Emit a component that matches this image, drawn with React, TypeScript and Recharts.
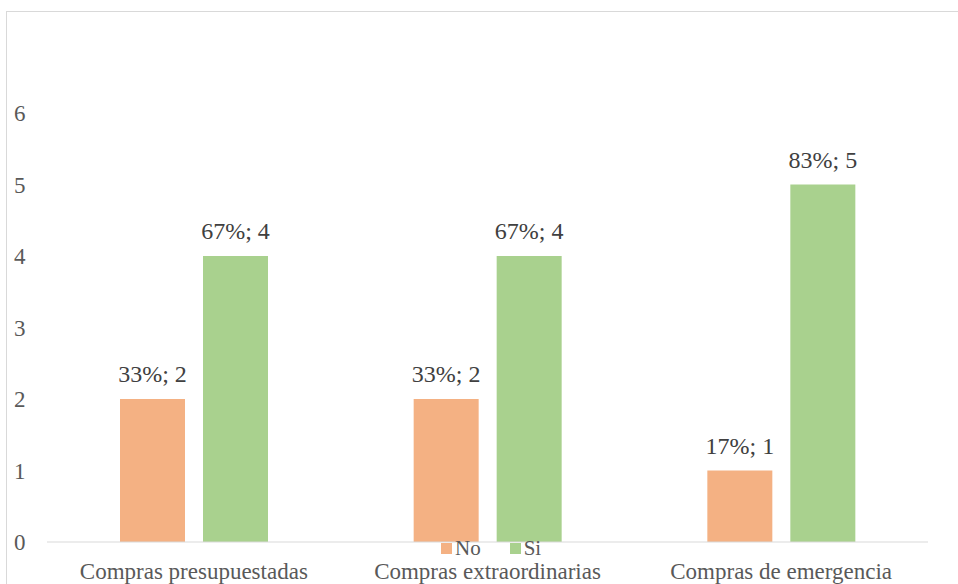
import { BarChart, Bar, XAxis, YAxis, LabelList } from "recharts";

const categories = [
  "Compras presupuestadas",
  "Compras extraordinarias",
  "Compras de emergencia",
];
const noValues = [2, 2, 1];
const siValues = [4, 4, 5];
const yTicks = [0, 1, 2, 3, 4, 5, 6];

const FONT = '"Liberation Serif", "Times New Roman", "DejaVu Serif", serif';
const ORANGE = "#F4B183";
const GREEN = "#A9D18E";

const data = categories.map((name, i) => {
  const total = noValues[i] + siValues[i];
  return {
    name,
    No: noValues[i],
    Si: siValues[i],
    noLabel: `${Math.round((noValues[i] / total) * 100)}%; ${noValues[i]}`,
    siLabel: `${Math.round((siValues[i] / total) * 100)}%; ${siValues[i]}`,
  };
});

const axisText = { fontFamily: FONT, fontSize: 23 };
const labelText = { fontFamily: FONT, fontSize: 24 };

const YTick = ({ y, payload }: any) => (
  <text x={14} y={y} dy={8} fill="#595959" style={axisText}>
    {payload.value}
  </text>
);

const XTick = ({ x, y, payload }: any) => (
  <text x={x} y={y} dy={29} textAnchor="middle" fill="#595959" style={axisText}>
    {payload.value}
  </text>
);

const BarLabel = ({ x, y, width, value }: any) => (
  <text
    x={x + width / 2}
    y={y - 17}
    textAnchor="middle"
    fill="#404040"
    style={labelText}
  >
    {value}
  </text>
);

const legendItems = [
  { label: "No", color: ORANGE },
  { label: "Si", color: GREEN },
];

export default function App() {
  return (
    <div
      style={{
        position: "absolute",
        left: 0,
        top: 0,
        width: 958,
        height: 584,
        overflow: "hidden",
        background: "#fff",
        fontFamily: FONT,
      }}
    >
      <div
        style={{
          position: "absolute",
          left: 6,
          top: 11,
          width: 980,
          height: 600,
          border: "1px solid #d9d9d9",
        }}
      />
      <BarChart
        width={958}
        height={584}
        data={data}
        margin={{ top: 113, right: 30, left: 0, bottom: 0 }}
        barSize={65}
        barGap={18}
      >
        <XAxis
          dataKey="name"
          height={42}
          axisLine={{ stroke: "#d9d9d9", strokeWidth: 1 }}
          tickLine={false}
          tick={<XTick />}
          interval={0}
        />
        <YAxis
          width={47}
          domain={[0, 6]}
          ticks={yTicks}
          axisLine={false}
          tickLine={false}
          tick={<YTick />}
        />
        <Bar dataKey="No" fill={ORANGE} isAnimationActive={false}>
          <LabelList dataKey="noLabel" content={<BarLabel />} />
        </Bar>
        <Bar dataKey="Si" fill={GREEN} isAnimationActive={false}>
          <LabelList dataKey="siLabel" content={<BarLabel />} />
        </Bar>
      </BarChart>
      <div
        style={{
          position: "absolute",
          left: 441,
          top: 540,
          display: "flex",
          fontSize: 21,
          color: "#595959",
          lineHeight: "17px",
        }}
      >
        {legendItems.map((item) => (
          <div
            key={item.label}
            style={{ display: "flex", alignItems: "center", marginRight: 29 }}
          >
            <span
              style={{
                display: "inline-block",
                width: 11,
                height: 11,
                background: item.color,
                marginRight: 3,
              }}
            />
            <span>{item.label}</span>
          </div>
        ))}
      </div>
    </div>
  );
}
